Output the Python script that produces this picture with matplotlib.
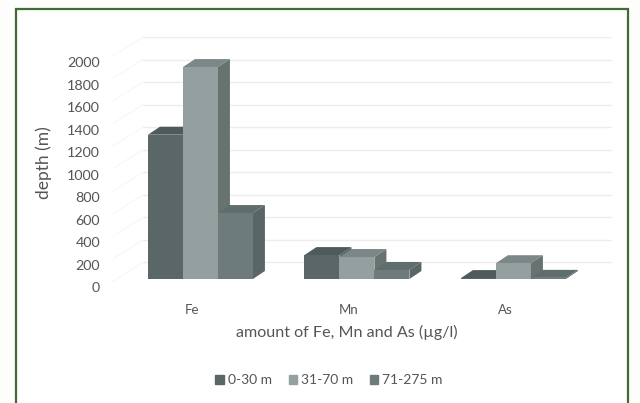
import matplotlib
matplotlib.use("Agg")
import matplotlib.pyplot as plt
from matplotlib.patches import Rectangle, Patch
from matplotlib.transforms import ScaledTranslation

categories = ["Fe", "Mn", "As"]
series_names = ["0-30 m", "31-70 m", "71-275 m"]
vals_shallow = [1280, 212, 8]
vals_mid = [1880, 195, 140]
vals_deep = [585, 80, 10]
yticks = [0, 200, 400, 600, 800, 1000, 1200, 1400, 1600, 1800, 2000]

front_cols = ["#5b6766", "#949f9f", "#6d7c7b"]
top_cols = ["#4f5b5a", "#7c8887", "#5f6d6c"]
side_cols = ["#566261", "#67736f", "#596665"]

W, H = 640, 403
plt.rcParams['font.family'] = ['Lato', 'DejaVu Sans']
fig = plt.figure(figsize=(W / 100, H / 100), dpi=100, facecolor="#fdfdfb")

# frame round the chart, runs off the bottom of the picture
fig.add_artist(Rectangle((16 / W, -0.02), 612 / W, 1 - 9 / H + 0.02, transform=fig.transFigure,
                         fc="white", ec="#3f6b35", lw=1.6, zorder=-1))

ax = fig.add_axes([143 / W, 1 - 285 / H, (612 - 143) / W, (285 - 37) / H])
ax.set_xlim(-0.367, 2.63)
ax.set_ylim(0, 2200)
ax.patch.set_alpha(0)
for s in ax.spines.values():
    s.set_visible(False)

# back wall lines, very faint in the scan
for y in yticks[1:] + [2200]:
    ax.axhline(y, color="#eceeec", lw=1.0, zorder=1)
    ax.plot([-0.367 - 0.19, -0.367], [y - 165, y], color="#f8f8f7", lw=1.0, clip_on=False, zorder=1)

bar_w = 35 / 156.5
dx = 12 / 156.5
dy = 8 / 0.1127
base = 6 / 0.1127

for j, vals in enumerate([vals_shallow, vals_mid, vals_deep]):
    for i, v in enumerate(vals):
        x0 = i + (j - 1.5) * bar_w
        x1 = x0 + bar_w
        y0 = base
        y1 = base + v
        ax.fill([x0, x1, x1 + dx, x0 + dx], [y1, y1, y1 + dy, y1 + dy], color=top_cols[j], lw=0, zorder=3 + j)
        ax.fill([x1, x1 + dx, x1 + dx, x1], [y0, y0 + dy, y1 + dy, y1], color=side_cols[j], lw=0, zorder=3 + j)
        ax.fill([x0, x1, x1, x0], [y0, y0, y1, y1], color=front_cols[j], lw=0, zorder=3 + j)

ax.set_yticks(yticks)
ax.tick_params(axis="y", length=0, pad=31, labelsize=10.3, labelcolor="#555555")
ax.set_xticks(range(3))
ax.set_xticklabels(categories)
ax.tick_params(axis="x", length=0, pad=14, labelsize=9.5, labelcolor="#555555")

# labels sit a little off the ticks in the original
for lab in ax.get_yticklabels():
    lab.set_transform(lab.get_transform() + ScaledTranslation(0, -2.5 / 100, fig.dpi_scale_trans))
for lab in ax.get_xticklabels():
    lab.set_transform(lab.get_transform() + ScaledTranslation(-8 / 100, 0, fig.dpi_scale_trans))

fig.text(347 / W, 1 - 332 / H, "amount of Fe, Mn and As (µg/l)", ha="center", va="center",
         fontsize=11.6, color="#555555")
fig.text(44 / W, 1 - 163 / H, "depth (m)", rotation=90, ha="center", va="center",
         fontsize=12.5, color="#555555")

handles = [Patch(color=c, label=n) for c, n in zip(front_cols, series_names)]
fig.legend(handles=handles, loc="center", bbox_to_anchor=(329 / W, 1 - 380 / H), ncol=3, frameon=False,
           fontsize=10, labelcolor="#555555", handlelength=0.6, handleheight=0.6,
           handletextpad=0.3, columnspacing=1.2)

fig.savefig("out.png", dpi=100)
